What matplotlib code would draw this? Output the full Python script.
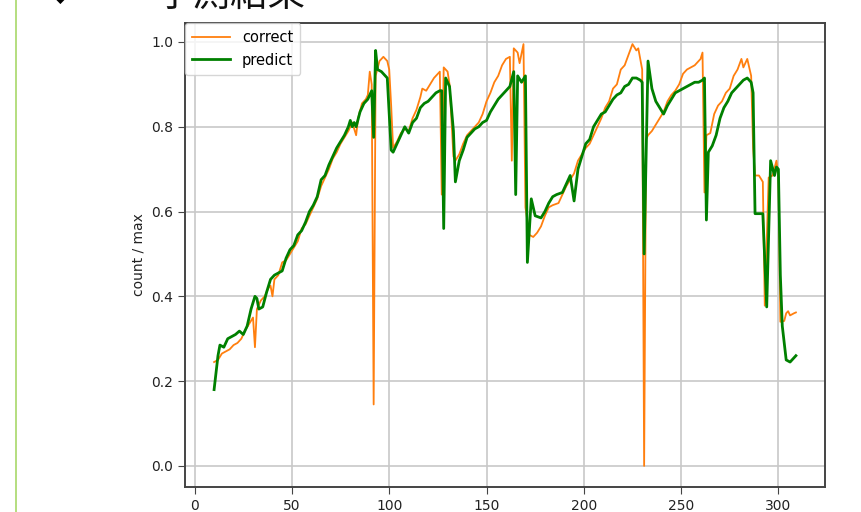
import matplotlib
matplotlib.use("Agg")
import matplotlib.pyplot as plt

# daily ratio (count / max): ground truth vs model output
correct_x = [10, 12, 14, 16, 18, 20, 22, 24, 26, 28, 30, 31, 32, 34, 36, 38, 39, 40, 41, 43,
             45, 47, 49, 51, 53, 55, 57, 59, 61, 63, 65, 67, 69, 71, 73, 75, 77, 79, 81, 82,
             83, 84, 86, 88, 89, 90, 91, 92, 93, 95, 97, 99, 100, 101, 102, 104, 106, 108, 110, 112,
             114, 116, 117, 119, 121, 123, 125, 126, 127, 128, 130, 131, 133, 134, 136, 138, 140, 142, 144, 146,
             148, 150, 152, 154, 156, 158, 160, 162, 163, 164, 166, 167, 169, 170, 172, 174, 176, 178, 180, 182,
             184, 187, 189, 191, 193, 195, 197, 199, 201, 203, 205, 207, 209, 211, 213, 215, 217, 219, 221, 223,
             225, 227, 228, 230, 231, 232, 233, 235, 237, 239, 241, 243, 245, 247, 249, 251, 253, 255, 257, 259,
             260, 261, 262, 263, 265, 267, 269, 271, 273, 275, 277, 279, 281, 282, 284, 286, 287, 288, 290, 292,
             293, 295, 297, 299, 300, 301, 303, 304, 305, 306, 308, 309]
correct_y = [0.245, 0.25, 0.265, 0.27, 0.275, 0.285, 0.29, 0.30, 0.32, 0.335, 0.35, 0.28, 0.37, 0.39, 0.40, 0.42, 0.425, 0.40, 0.44, 0.45,
             0.48, 0.485, 0.50, 0.515, 0.53, 0.56, 0.57, 0.59, 0.61, 0.63, 0.66, 0.68, 0.70, 0.725, 0.74, 0.76, 0.775, 0.79, 0.81, 0.795,
             0.78, 0.82, 0.855, 0.865, 0.875, 0.93, 0.90, 0.145, 0.92, 0.955, 0.965, 0.955, 0.935, 0.85, 0.75, 0.765, 0.785, 0.795, 0.79, 0.82,
             0.84, 0.87, 0.89, 0.885, 0.90, 0.915, 0.925, 0.93, 0.64, 0.94, 0.93, 0.90, 0.73, 0.72, 0.735, 0.76, 0.78, 0.79, 0.80, 0.81,
             0.83, 0.86, 0.88, 0.905, 0.92, 0.945, 0.96, 0.965, 0.72, 0.985, 0.975, 0.95, 0.995, 0.61, 0.545, 0.54, 0.55, 0.565, 0.59, 0.61,
             0.615, 0.62, 0.64, 0.66, 0.675, 0.69, 0.72, 0.735, 0.75, 0.76, 0.78, 0.80, 0.82, 0.845, 0.86, 0.89, 0.90, 0.935, 0.945, 0.97,
             0.995, 0.98, 0.985, 0.935, 0.0, 0.77, 0.78, 0.79, 0.805, 0.82, 0.835, 0.86, 0.875, 0.885, 0.90, 0.925, 0.935, 0.94, 0.945, 0.955,
             0.96, 0.975, 0.645, 0.78, 0.785, 0.83, 0.85, 0.86, 0.88, 0.89, 0.92, 0.935, 0.96, 0.94, 0.96, 0.92, 0.75, 0.685, 0.685, 0.67,
             0.378, 0.68, 0.685, 0.72, 0.68, 0.34, 0.342, 0.36, 0.365, 0.355, 0.36, 0.362]

predict_x = [10, 12, 13, 15, 17, 19, 21, 23, 25, 27, 29, 31, 32, 33, 35, 37, 39, 41, 43, 45,
             47, 49, 51, 53, 55, 57, 59, 61, 63, 65, 67, 69, 71, 73, 75, 77, 79, 80, 81, 82,
             83, 85, 87, 89, 91, 92, 93, 94, 96, 98, 99, 101, 102, 104, 106, 108, 110, 112, 114, 116,
             118, 120, 122, 124, 126, 127, 128, 129, 131, 133, 134, 136, 138, 140, 142, 144, 146, 148, 150, 152,
             154, 156, 158, 160, 162, 164, 165, 166, 168, 170, 171, 173, 175, 178, 180, 182, 184, 186, 189, 191,
             193, 195, 197, 199, 201, 203, 205, 207, 209, 211, 213, 215, 217, 219, 221, 223, 225, 227, 229, 230,
             231, 233, 235, 237, 239, 241, 243, 245, 247, 249, 251, 253, 255, 257, 259, 261, 262, 263, 264, 266,
             268, 270, 272, 274, 276, 278, 280, 282, 284, 286, 287, 288, 292, 294, 296, 298, 299, 300, 301, 302,
             304, 306, 309]
predict_y = [0.18, 0.26, 0.285, 0.28, 0.30, 0.305, 0.31, 0.318, 0.31, 0.33, 0.37, 0.40, 0.395, 0.37, 0.375, 0.41, 0.44, 0.45, 0.455, 0.46,
             0.49, 0.51, 0.52, 0.545, 0.555, 0.575, 0.60, 0.615, 0.635, 0.675, 0.685, 0.71, 0.73, 0.75, 0.765, 0.78, 0.80, 0.815, 0.80, 0.81,
             0.80, 0.835, 0.855, 0.865, 0.885, 0.775, 0.98, 0.935, 0.93, 0.92, 0.915, 0.745, 0.74, 0.76, 0.78, 0.80, 0.785, 0.81, 0.82, 0.845,
             0.855, 0.86, 0.87, 0.88, 0.885, 0.885, 0.56, 0.915, 0.895, 0.79, 0.67, 0.72, 0.745, 0.775, 0.785, 0.795, 0.80, 0.81, 0.815, 0.835,
             0.85, 0.865, 0.875, 0.885, 0.895, 0.93, 0.64, 0.92, 0.905, 0.92, 0.48, 0.63, 0.59, 0.585, 0.60, 0.62, 0.635, 0.64, 0.645, 0.665,
             0.685, 0.625, 0.70, 0.73, 0.76, 0.77, 0.80, 0.815, 0.83, 0.835, 0.85, 0.865, 0.875, 0.88, 0.895, 0.90, 0.915, 0.915, 0.91, 0.905,
             0.50, 0.955, 0.89, 0.86, 0.845, 0.83, 0.85, 0.865, 0.88, 0.885, 0.89, 0.895, 0.90, 0.905, 0.905, 0.91, 0.915, 0.58, 0.74, 0.755,
             0.78, 0.82, 0.845, 0.86, 0.88, 0.89, 0.90, 0.91, 0.915, 0.905, 0.88, 0.595, 0.595, 0.375, 0.72, 0.685, 0.705, 0.70, 0.45, 0.33,
             0.25, 0.245, 0.26]

fig = plt.figure(figsize=(8.61, 5.12), dpi=100)

# page decoration around the chart: side rule, bullet and heading
fig.add_artist(plt.Line2D([16 / 861, 16 / 861], [0, 1], color="#a8d86a", lw=1.2))
fig.text(60 / 861, 1.0 + 2 / 512, "\u25c6", fontsize=12, ha="center", va="center", color="black")
fig.text(155 / 861, 1.0 + 5 / 512, "予測結果", fontsize=27, ha="left", va="center",
         family=["Noto Sans CJK JP", "DejaVu Sans"], color="#111111")

ax = fig.add_axes([185 / 861, 1 - 487 / 512, 640 / 861, 464 / 512])
ax.plot(correct_x, correct_y, color="#ff7f0e", lw=1.3, label="correct")
ax.plot(predict_x, predict_y, color="green", lw=2.0, label="predict")

ax.set_xticks([0, 50, 100, 150, 200, 250, 300])
ax.set_yticks([0.0, 0.2, 0.4, 0.6, 0.8, 1.0])
ax.grid(True, color="#c8c8c8", lw=1.2)
ax.set_axisbelow(True)
ax.set_ylabel("count / max", fontsize=10, color="#222222")
ax.tick_params(labelsize=10, labelcolor="#222222", length=5, color="#444444")
for s in ax.spines.values():
    s.set_color("#444444")
    s.set_linewidth(1.4)

ax.legend(loc="upper left", borderaxespad=0, fontsize=10.5, handlelength=2.6,
          borderpad=0.5)

fig.savefig("out.png", dpi=100)
